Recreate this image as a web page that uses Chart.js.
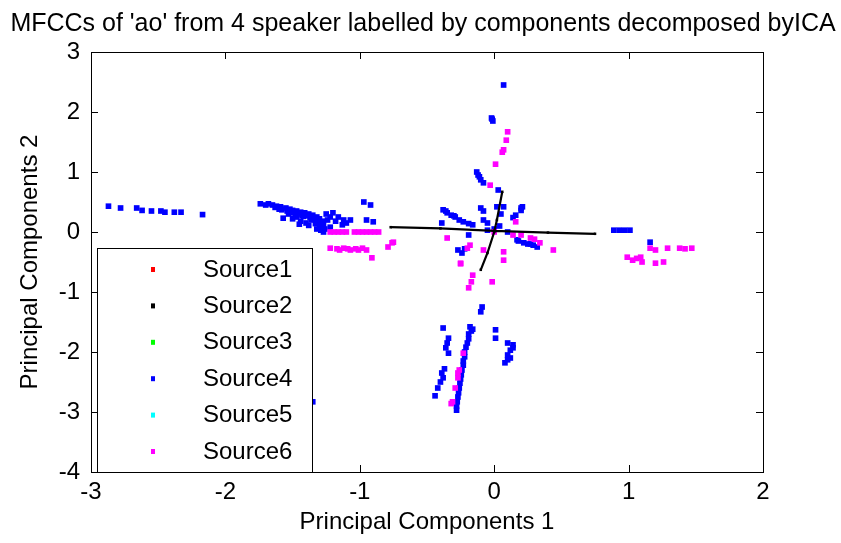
<!DOCTYPE html>
<html>
<head>
<meta charset="utf-8">
<script src="https://cdn.jsdelivr.net/npm/chart.js@4"></script>
<style>
    html, body { margin: 0; padding: 0; background: #fff; }
    canvas { display: block; }
</style>
</head>
<body>
<canvas id="ica-chart" width="841" height="543"></canvas>
<script>
// MFCC scatter, points labelled by ICA component

const chartTitle = "MFCCs of 'ao' from 4 speaker labelled by components decomposed byICA";
const xTicks = [-3, -2, -1, 0, 1, 2];
const yTicks = [-4, -3, -2, -1, 0, 1, 2, 3];

const sourceNames = ['Source1', 'Source2', 'Source3', 'Source4', 'Source5', 'Source6'];
const sourceColors = ['#ff0000', '#000000', '#00ff00', '#0000ff', '#00ffff', '#ff00ff'];

// Source2 (black) - a thin cross, null breaks the two strokes
const src2X = [-0.77, -0.40, 0.00, 0.40, 0.75, null, 0.06, 0.02, 0.00, -0.05, -0.10];
const src2Y = [0.08, 0.06, 0.02, -0.01, -0.03, null, 0.67, 0.20, 0.00, -0.35, -0.63];

// Source4 (blue)
const src4X = [
    -2.87, -2.78, -2.66, -2.62, -2.55, -2.48, -2.45, -2.38, -2.33, -2.17,
    -1.74, -1.70, -1.65, -1.62, -1.59, -1.55, -1.52, -1.50, -1.47, -1.44,
    -1.41, -1.38, -1.35, -1.32, -1.30, -1.28, -1.29, -1.29, -1.27, -1.57,
    -1.53, -1.47, -1.44, -1.40, -1.36, -1.33, -1.30, -1.25, -1.20, -1.22,
    -1.18, -1.12, -1.07, -1.13, -0.97, -0.92, -0.95, -0.90, -1.60, -1.48,
    -1.42, -1.37, -1.68, -1.63, -1.58, -1.54, -1.51, -1.46, -1.43, -1.39,
    -1.36, -1.34, -1.31, -1.27, -1.26, -1.32, -1.24, -1.16, -1.10, -1.50,
    -1.45, -1.38, -1.22,
    0.07, -0.015, -0.01, -0.13, -0.12, -0.10, -0.08, 0.03, 0.21, 0.20,
    0.16, 0.14, -0.10, -0.08, 0.02, 0.07, 0.05, -0.38, -0.35, -0.32,
    -0.29, -0.26, -0.23, -0.19, -0.16, -0.39, -0.08, -0.05, -0.19, -0.27,
    -0.24, -0.22, 0.17, 0.22, 0.27, 0.32, -0.05, 0.00, 0.04, 0.10,
    -0.02, 0.20, -0.11, -0.30, -0.36, 0.18, 0.25, 0.29,
    -0.09, -0.10, -0.18, -0.16, -0.19, -0.20, -0.22, -0.23, -0.24, -0.25,
    -0.26, -0.27, -0.28, -0.28, -0.38, -0.34, -0.35, -0.36, -0.34, -0.39,
    -0.38, -0.40, -0.44, 0.01, 0.01, 0.10, 0.14, 0.12, 0.10, 0.10,
    0.08, -1.35, -0.17, -0.19, -0.21, -0.22, -0.23, -0.245, -0.255, -0.265,
    -0.275, -0.42, -0.37, 0.12, 0.14,
    0.89, 0.93, 0.97, 1.01, 1.16
];
const src4Y = [
    0.43, 0.40, 0.40, 0.36, 0.35, 0.35, 0.33, 0.33, 0.33, 0.29,
    0.47, 0.45, 0.45, 0.43, 0.42, 0.40, 0.38, 0.36, 0.35, 0.33,
    0.32, 0.30, 0.28, 0.25, 0.22, 0.18, 0.10, 0.03, 0.00, 0.23,
    0.30, 0.25, 0.18, 0.15, 0.20, 0.14, 0.08, 0.30, 0.32, 0.25,
    0.18, 0.20, 0.20, 0.12, 0.50, 0.45, 0.20, 0.17, 0.38, 0.30,
    0.26, 0.24, 0.47, 0.41, 0.37, 0.35, 0.32, 0.30, 0.28, 0.27,
    0.25, 0.22, 0.18, 0.12, 0.05, 0.05, 0.20, 0.25, 0.15, 0.22,
    0.13, 0.11, 0.08,
    2.45, 1.88, 1.85, 1.00, 0.95, 0.87, 0.82, 0.70, 0.42, 0.36,
    0.28, 0.24, 0.40, 0.35, 0.42, 0.42, 0.30, 0.37, 0.32, 0.28,
    0.25, 0.20, 0.17, 0.14, 0.12, 0.15, 0.20, 0.15, -0.05, -0.30,
    -0.35, -0.28, -0.13, -0.18, -0.20, -0.25, 0.03, 0.05, 0.10, 0.00,
    1.90, 0.40, 0.92, 0.27, 0.35, -0.15, -0.20, -0.22,
    -1.25, -1.33, -1.58, -1.62, -1.70, -1.85, -2.00, -2.15, -2.30, -2.45,
    -2.60, -2.75, -2.90, -2.97, -1.60, -1.77, -1.85, -1.93, -2.02, -2.35,
    -2.43, -2.50, -2.73, -1.63, -1.77, -1.85, -1.93, -1.97, -2.05, -2.13,
    -2.18, -2.83, -1.65, -1.78, -1.92, -2.08, -2.22, -2.38, -2.52, -2.68,
    -2.83, -2.60, -2.28, -2.10, -1.88,
    0.03, 0.03, 0.03, 0.03, -0.17
];

// Source6 (magenta)
const src6X = [
    -1.22, -1.16, -1.10, -1.04, -0.98, -0.92, -0.86, -1.22, -1.17, -1.12,
    -1.07, -1.03, -0.98, -0.95, -0.91, -0.75, -0.79, -0.76, -1.19, -1.13,
    -1.01, -0.95, -0.89, -1.15, -1.09, -1.01,
    0.10, 0.09, 0.07, 0.06, 0.01, -0.03, 0.16, 0.14, 0.27, 0.30,
    0.34, 0.44, 0.20, -0.35, -0.20, -0.18, -0.25, -0.08, 0.07, 0.07,
    0.00, -0.25, -0.16, -0.17, -0.19, -0.015, -0.23, -0.26, -0.27, -0.27,
    -0.29, -0.31, -0.32,
    1.16, 1.20, 1.29, 1.38, 1.42, 1.47, 0.99, 1.03, 1.06, 1.10,
    1.20, 1.26, 1.09
];
const src6Y = [
    0.00, 0.00, 0.00, 0.00, 0.00, 0.00, 0.00, -0.27, -0.28, -0.27,
    -0.30, -0.28, -0.27, -0.30, -0.43, -0.17, -0.25, -0.18, 0.00, 0.00,
    0.00, 0.00, 0.00, -0.30, -0.28, -0.30,
    1.67, 1.53, 1.37, 1.33, 1.13, 0.78, 0.17, -0.05, -0.10, -0.12,
    -0.18, -0.30, -0.05, -0.10, -0.27, -0.22, -0.52, -0.30, -0.33, -0.47,
    0.00, -0.53, -0.72, -0.83, -0.93, -0.83, -2.02, -2.30, -2.35, -2.43,
    -2.60, -2.83, -2.86,
    -0.27, -0.30, -0.27, -0.27, -0.28, -0.27, -0.42, -0.47, -0.44, -0.50,
    -0.52, -0.50, -0.42
];

const FONT = '"Liberation Sans", Arial, sans-serif';

function toPoints(xs, ys) {
    return xs.map((x, i) => ({ x: x, y: ys[i] }));
}

const seriesX = [[], src2X, [], src4X, [], src6X];
const seriesY = [[], src2Y, [], src4Y, [], src6Y];

const datasets = sourceNames.map((name, idx) => ({
    label: name,
    data: toPoints(seriesX[idx], seriesY[idx]),
    backgroundColor: sourceColors[idx],
    borderColor: sourceColors[idx],
    pointStyle: 'rect',
    pointRadius: idx === 1 ? 1.8 : 4,
    pointBorderWidth: 0,
    showLine: idx === 1,
    borderWidth: 2.2,
    spanGaps: false
}));

// draw stacking order like the original: blue under magenta, black on top
datasets[1].order = 0;
datasets[5].order = 1;
datasets[3].order = 2;

// title centred on the whole figure, box + inward ticks on all four sides
const framePlugin = {
    id: 'frame',
    beforeDraw(chart) {
        const ctx = chart.ctx;
        ctx.save();
        ctx.fillStyle = '#000';
        ctx.font = '25px ' + FONT;
        ctx.textAlign = 'center';
        ctx.textBaseline = 'middle';
        ctx.fillText(chartTitle, 423, 24, 828);
        ctx.restore();
    },
    afterDatasetsDraw(chart) {
        const { ctx, chartArea: a, scales } = chart;
        const tick = 7;
        ctx.save();
        ctx.strokeStyle = '#000';
        ctx.lineWidth = 1;
        ctx.beginPath();
        xTicks.forEach(v => {
            const px = Math.round(scales.x.getPixelForValue(v)) + 0.5;
            ctx.moveTo(px, a.bottom); ctx.lineTo(px, a.bottom - tick);
            ctx.moveTo(px, a.top); ctx.lineTo(px, a.top + tick);
        });
        yTicks.forEach(v => {
            const py = Math.round(scales.y.getPixelForValue(v)) + 0.5;
            ctx.moveTo(a.left, py); ctx.lineTo(a.left + tick, py);
            ctx.moveTo(a.right, py); ctx.lineTo(a.right - tick, py);
        });
        ctx.stroke();
        ctx.strokeRect(Math.round(a.left) + 0.5, Math.round(a.top) + 0.5,
            Math.round(a.right - a.left), Math.round(a.bottom - a.top));
        ctx.restore();
    }
};

// MATLAB style legend box sitting in the lower left of the axes
const legendPlugin = {
    id: 'boxLegend',
    afterDraw(chart) {
        const { ctx, chartArea: a } = chart;
        const left = a.left + 6, top = 248, right = 312, bottom = a.bottom;
        const rowGap = 36.4;
        ctx.save();
        ctx.fillStyle = '#fff';
        ctx.fillRect(left, top, right - left, bottom - top);
        ctx.strokeStyle = '#000';
        ctx.lineWidth = 1;
        ctx.strokeRect(left + 0.5, top + 0.5, right - left, bottom - top);
        ctx.font = '24px ' + FONT;
        ctx.textBaseline = 'middle';
        sourceNames.forEach((name, i) => {
            const y = top + 21 + i * rowGap;
            ctx.fillStyle = sourceColors[i];
            ctx.fillRect(151, y - 2, 4, 5);
            ctx.fillStyle = '#000';
            ctx.fillText(name, 203, y + 1);
        });
        ctx.restore();
    }
};

new Chart(document.getElementById('ica-chart'), {
    type: 'scatter',
    data: { datasets: datasets },
    options: {
        responsive: false,
        animation: false,
        layout: { padding: { left: 0, right: 78, top: 52, bottom: 0 } },
        plugins: {
            legend: { display: false },
            tooltip: { enabled: false },
            title: { display: false }
        },
        scales: {
            x: {
                type: 'linear',
                min: -3,
                max: 2,
                afterBuildTicks: scale => { scale.ticks = xTicks.map(v => ({ value: v })); },
                afterFit: scale => { scale.height = 71; },
                grid: { display: false, drawTicks: false },
                border: { display: false },
                ticks: {
                    color: '#000',
                    padding: 6,
                    maxRotation: 0,
                    font: { family: FONT, size: 24 },
                    callback: v => String(v)
                },
                title: {
                    display: true,
                    text: 'Principal Components 1',
                    color: '#000',
                    font: { family: FONT, size: 24, lineHeight: 1.2 },
                    padding: { top: 0, bottom: 6 }
                }
            },
            y: {
                type: 'linear',
                min: -4,
                max: 3,
                afterBuildTicks: scale => { scale.ticks = yTicks.map(v => ({ value: v })); },
                afterFit: scale => { scale.width = 91; },
                grid: { display: false, drawTicks: false },
                border: { display: false },
                ticks: {
                    color: '#000',
                    padding: 11,
                    font: { family: FONT, size: 24 },
                    callback: v => String(v)
                },
                title: {
                    display: true,
                    text: 'Principal Components 2',
                    color: '#000',
                    font: { family: FONT, size: 24, lineHeight: 1.2 },
                    padding: { top: 16, bottom: 0 }
                }
            }
        }
    },
    plugins: [framePlugin, legendPlugin]
});
</script>
</body>
</html>
